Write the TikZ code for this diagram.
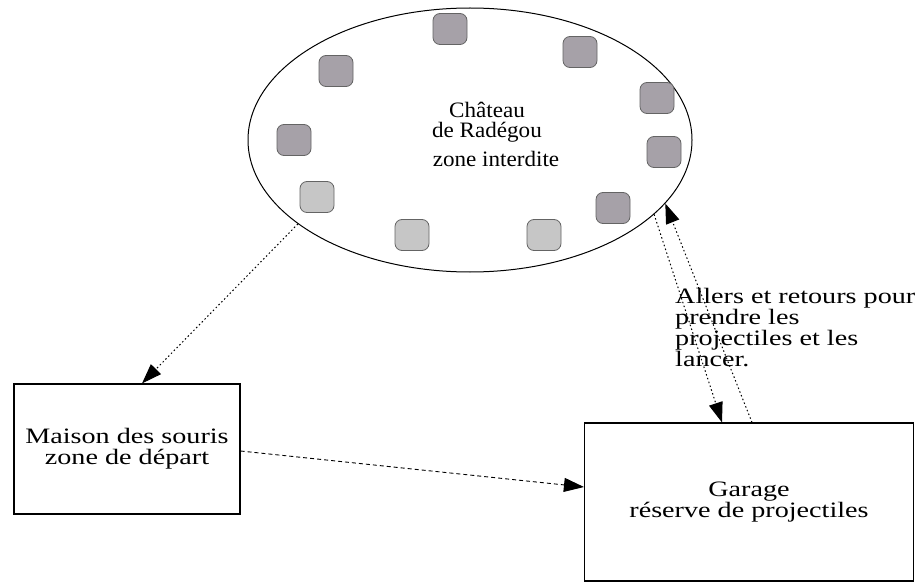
\documentclass[tikz,border=0pt]{standalone}
\usepackage{fontspec}
\setmainfont{Liberation Serif}[FakeStretch=1.28]
\newfontfamily\chateaufont{Liberation Serif}[FakeStretch=1.05]
\usetikzlibrary{positioning, shapes.geometric, arrows.meta}

\definecolor{tourfonce}{RGB}{166,161,168}
\definecolor{tourclair}{RGB}{198,198,198}
\definecolor{tourbord}{RGB}{100,100,100}

\begin{document}
\begin{tikzpicture}[x=1pt, y=-1pt,
    font=\fontsize{22}{21}\selectfont,
    tour/.style = {rectangle, rounded corners=7pt, minimum width=34pt, minimum height=31pt,
                   inner sep=0pt, draw=tourbord, line width=0.8pt},
    zone/.style = {draw, line width=1.1pt, rectangle, inner sep=0pt, align=center},
    pointille/.style = {dash pattern=on 1.5pt off 2.5pt, line width=1pt, -{Triangle[length=20pt,width=14pt]}},
    tirets/.style = {dash pattern=on 4pt off 3pt, line width=0.9pt, -{Triangle[length=20pt,width=14pt]}}]
    \useasboundingbox (0,0) rectangle (921,583);

    % le chateau et ses tours
    \node (chateau) [ellipse, draw, line width=1pt, minimum width=444pt, minimum height=264pt] at (470,140) {};
    \foreach \x/\y/\c [count=\i] in {450/29/tourfonce, 580/52/tourfonce, 336/71/tourfonce,
                                     657/98/tourfonce, 294/140/tourfonce, 664/152/tourfonce,
                                     317/197/tourclair, 613/208/tourfonce, 412/235/tourclair, 544/235/tourclair}
        \node (tour\i) [tour, fill=\c] at (\x,\y) {};
    \node (nom) [align=center, font=\chateaufont\fontsize{22}{20}\selectfont] at (487,122) {Château\\de Radégou};
    \node (interdit) [font=\chateaufont\fontsize{22}{20}\selectfont] at (496,159) {zone interdite};

    % les deux zones
    \node (maison) [zone, minimum width=226pt, minimum height=130pt] at (127,449) {Maison des souris\\zone de départ};
    \node (garage) [zone, minimum width=329pt, minimum height=158pt] at (749,502) {Garage\\réserve de projectiles};
    \node (allers) [anchor=north west, align=left, inner sep=0pt] at (675,288)
        {Allers et retours pour\\prendre les\\projectiles et les\\lancer.};

    \draw [pointille] (chateau.206) -- ([xshift=15pt]maison.north);
    \draw [tirets] ([yshift=-2pt]maison.east) -- ([yshift=15pt]garage.west);
    \draw [pointille] (chateau.338) -- ([xshift=-27pt]garage.north);
    \draw [pointille] ([xshift=3pt]garage.north) -- (chateau.342);
\end{tikzpicture}
\end{document}
